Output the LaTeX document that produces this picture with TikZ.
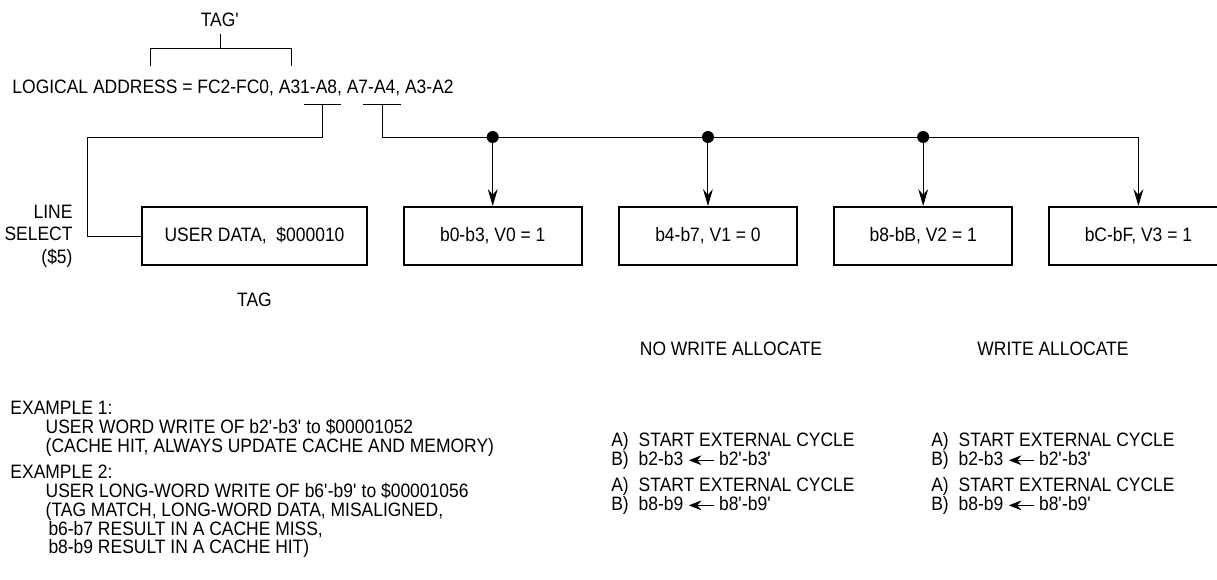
\documentclass[tikz,border=0pt]{standalone}
\usepackage{fontspec}
\setmainfont{Liberation Sans}[FakeStretch=0.9]
\usetikzlibrary{arrows.meta,positioning}
\newcommand{\wrarrow}{\tikz[baseline=-0.55ex,x=1cm,y=1cm]\draw[line width=0.8pt,-{Stealth[length=9pt,width=7pt,inset=3pt]}] (0.62,0)--(0,0);}
\newcommand{\pr}{\textquotesingle}
\begin{document}
\begin{tikzpicture}[x=0.025cm,y=-0.025cm,line width=0.7pt,
  font=\fontsize{13.8}{16}\selectfont,
  cachebox/.style={draw,line width=1.4pt,minimum width=4.45cm,minimum height=1.45cm,inner sep=0pt},
  tip/.style={-{Stealth[length=12pt,width=7pt,inset=4pt]}},
  junction/.style={circle,fill,inner sep=0pt,minimum size=0.3cm},
  txt/.style={inner sep=0pt}]
\useasboundingbox (0,0) rectangle (1217,579);
% logical address
\node[txt] (tagp) at (220,20) {TAG\pr};
\node[txt,anchor=west] (addr) at (12,88) {LOGICAL ADDRESS = FC2-FC0, A31-A8, A7-A4, A3-A2};
\coordinate (tagstem) at (220,34);
\draw (150,66) -- (150,48) -- (291,48) -- (291,66);
\draw (tagstem) -- (220,48);
\coordinate (selfork) at (322,104); \coordinate (busfork) at (382,104);
\draw (304,104) -- (341,104); \draw (363,104) -- (401,104);
% cache line
\node[cachebox,minimum width=5.6cm] (ud) at (254.5,236) {USER DATA,\ \ \$000010};
\node[cachebox,right=0.88cm of ud] (b0) {b0-b3, V0 = 1};
\node[cachebox,right=0.88cm of b0] (b1) {b4-b7, V1 = 0};
\node[cachebox,right=0.88cm of b1] (b2) {b8-bB, V2 = 1};
\node[cachebox,right=0.88cm of b2] (b3) {bC-bF, V3 = 1};
\node[txt,align=right,anchor=east] (lsel) at (73,236) {LINE\\SELECT\\(\$5)};
\node[txt] (tag) at (254.5,300) {TAG};
% connectors
\draw (selfork) |- (87,137) |- (ud.west);
\draw[tip] (busfork) |- (b3.north |- 0,137) -- (b3.north);
\node[junction] (j0) at (b0.north |- 0,137) {};
\node[junction] (j1) at (b1.north |- 0,137) {};
\node[junction] (j2) at (b2.north |- 0,137) {};
\draw[tip] (j0) -- (b0.north);
\draw[tip] (j1) -- (b1.north);
\draw[tip] (j2) -- (b2.north);
% write cases
\node[txt] (nwa) at (731,349) {NO WRITE ALLOCATE};
\node[txt] (wa) at (1053,349) {WRITE ALLOCATE};
\node[txt,anchor=north west,align=left,font=\fontsize{13.8}{13.3}\selectfont] (ex) at (10,401)
  {EXAMPLE 1:\\
   \hspace*{0.88cm}USER WORD WRITE OF b2\pr-b3\pr{} to \$00001052\\
   \hspace*{0.88cm}(CACHE HIT, ALWAYS UPDATE CACHE AND MEMORY)\\[0.2cm]
   EXAMPLE 2:\\
   \hspace*{0.88cm}USER LONG-WORD WRITE OF b6\pr-b9\pr{} to \$00001056\\
   \hspace*{0.88cm}(TAG MATCH, LONG-WORD DATA, MISALIGNED,\\
   \hspace*{0.95cm}b6-b7 RESULT IN A CACHE MISS,\\
   \hspace*{0.95cm}b8-b9 RESULT IN A CACHE HIT)};
\node[txt,anchor=north west,font=\fontsize{13.8}{13}\selectfont] (nwsteps) at (611,432)
  {\begin{tabular}{@{}l@{\hspace{0.25cm}}l@{}}
   A) & START EXTERNAL CYCLE\\
   B) & b2-b3 \wrarrow{} b2\pr-b3\pr\\[0.15cm]
   A) & START EXTERNAL CYCLE\\
   B) & b8-b9 \wrarrow{} b8\pr-b9\pr
   \end{tabular}};
\node[txt,anchor=north west,font=\fontsize{13.8}{13}\selectfont] (wsteps) at (931,432)
  {\begin{tabular}{@{}l@{\hspace{0.25cm}}l@{}}
   A) & START EXTERNAL CYCLE\\
   B) & b2-b3 \wrarrow{} b2\pr-b3\pr\\[0.15cm]
   A) & START EXTERNAL CYCLE\\
   B) & b8-b9 \wrarrow{} b8\pr-b9\pr
   \end{tabular}};
\end{tikzpicture}
\end{document}
